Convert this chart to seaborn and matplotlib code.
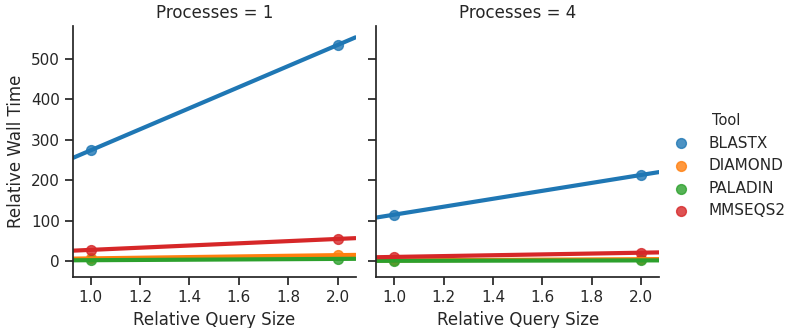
import pandas as pd
import matplotlib
matplotlib.use("Agg")
import matplotlib.pyplot as plt
import seaborn as sns

# Values.
tools = ["BLASTX", "DIAMOND", "PALADIN", "MMSEQS2"]
query_size = [1.0, 2.0]
processes = [1, 4]
wall_p1 = {"BLASTX": [274, 534], "DIAMOND": [7, 15], "PALADIN": [2.5, 5.7], "MMSEQS2": [28, 55]}
wall_p4 = {"BLASTX": [115, 213], "DIAMOND": [2, 5], "PALADIN": [1, 2], "MMSEQS2": [10.6, 21]}

rows = []
for proc, wall in zip(processes, [wall_p1, wall_p4]):
    for tool in tools:
        for q, w in zip(query_size, wall[tool]):
            rows.append({"Processes": proc, "Tool": tool,
                         "Relative Query Size": q, "Relative Wall Time": w})
df = pd.DataFrame(rows)

sns.set_theme(style="ticks", context="notebook", palette="tab10")
plt.rcParams["font.family"] = ["DejaVu Sans"]

g = sns.lmplot(data=df, x="Relative Query Size", y="Relative Wall Time",
               hue="Tool", col="Processes", hue_order=tools,
               ci=None, truncate=False, height=3.28, aspect=1.0,
               scatter_kws={"s": 50}, line_kws={"linewidth": 3},
               facet_kws={"xlim": (0.928, 2.073), "ylim": (-39, 581)})
g.set(xticks=[1.0, 1.2, 1.4, 1.6, 1.8, 2.0], yticks=[0, 100, 200, 300, 400, 500])
g.fig.set_size_inches(7.88, 3.28)
g.fig.subplots_adjust(left=73 / 788, right=659 / 788, bottom=1 - 277 / 328,
                      top=1 - 26 / 328, wspace=21 / 283)
sns.move_legend(g, "center left", bbox_to_anchor=(0.828, 0.495), frameon=False,
                fontsize=11, title_fontsize=10.5)

g.fig.savefig("out.png", dpi=100)
